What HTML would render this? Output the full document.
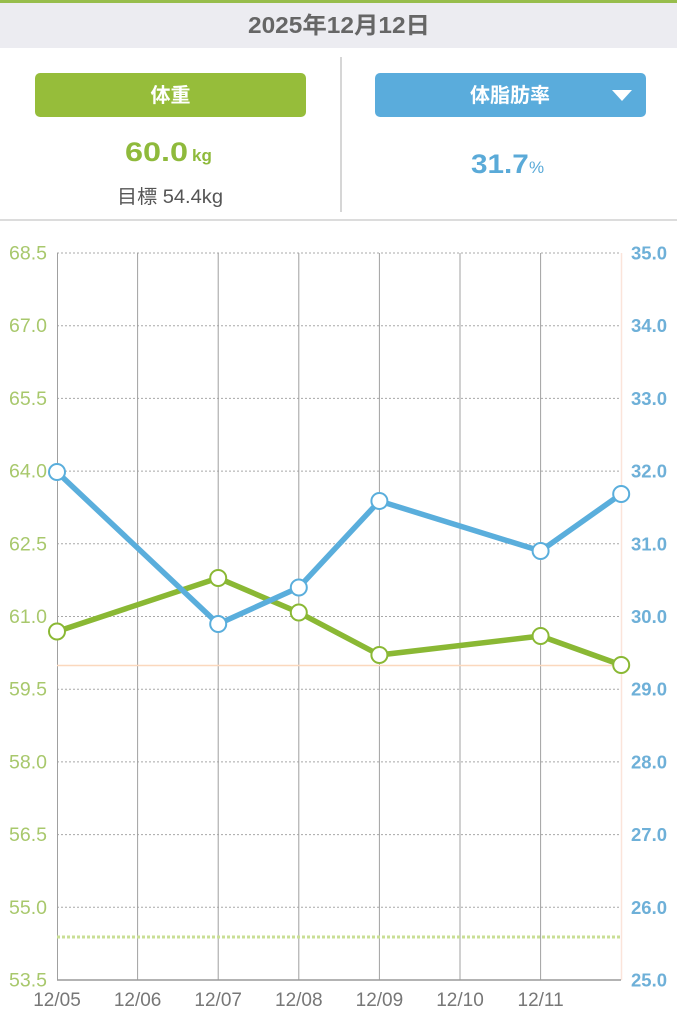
<!DOCTYPE html>
<html><head><meta charset="utf-8"><style>
html,body{margin:0;padding:0;background:#fff;width:677px;height:1024px;overflow:hidden}
svg{display:block}
text{font-family:"Liberation Sans","Noto Sans CJK JP",sans-serif}
</style></head><body>
<svg width="677" height="1024" viewBox="0 0 677 1024" xmlns="http://www.w3.org/2000/svg">
<rect x="0" y="0" width="677" height="1024" fill="#fff"/>
<!-- header -->
<rect x="0" y="0" width="677" height="48" fill="#ececf1"/>
<rect x="0" y="0" width="677" height="3" fill="#97bd4c"/>
<text x="339" y="33" text-anchor="middle" font-size="23" font-weight="bold" fill="#666" textLength="182" lengthAdjust="spacingAndGlyphs">2025年12月12日</text>
<line x1="341" y1="57" x2="341" y2="212" stroke="#c8c8c8" stroke-width="1.5"/>
<rect x="0" y="219" width="677" height="2" fill="#dcdcdc"/>
<rect x="35" y="73" width="271" height="44" rx="5" fill="#96bd3a"/>
<text x="170.5" y="102" text-anchor="middle" font-size="20" font-weight="bold" fill="#fff">体重</text>
<rect x="375" y="73" width="271" height="44" rx="5" fill="#5aacdc"/>
<text x="510" y="102" text-anchor="middle" font-size="20" font-weight="bold" fill="#fff">体脂肪率</text>
<polygon points="612,90 632,90 622,101" fill="#fff"/>
<g transform="translate(125,161) scale(1.2,1)">
<text x="0" y="0" font-size="27" font-weight="bold" fill="#8fba3c">60.0</text>
</g>
<text x="192" y="161" font-size="17" font-weight="bold" fill="#8fba3c">kg</text>
<text x="117" y="203" font-size="19" fill="#555" textLength="106" lengthAdjust="spacingAndGlyphs">目標 54.4kg</text>
<g transform="translate(471,173) scale(1.1,1)">
<text x="0" y="0" font-size="27" font-weight="bold" fill="#5aaad8">31.7</text>
</g>
<text x="529" y="173" font-size="17" fill="#5aaad8">%</text>

<!-- chart grid -->
<g stroke="#a8a8a8" stroke-width="1" stroke-dasharray="2 2">
<line x1="57" y1="253" x2="621" y2="253"/>
<line x1="57" y1="325.7" x2="621" y2="325.7"/>
<line x1="57" y1="398.4" x2="621" y2="398.4"/>
<line x1="57" y1="471.1" x2="621" y2="471.1"/>
<line x1="57" y1="543.8" x2="621" y2="543.8"/>
<line x1="57" y1="616.5" x2="621" y2="616.5"/>
<line x1="57" y1="689.2" x2="621" y2="689.2"/>
<line x1="57" y1="761.9" x2="621" y2="761.9"/>
<line x1="57" y1="834.6" x2="621" y2="834.6"/>
<line x1="57" y1="907.3" x2="621" y2="907.3"/>
</g>
<g stroke="#a0a0a0" stroke-width="1">
<line x1="57.5" y1="253" x2="57.5" y2="980"/>
<line x1="137.6" y1="253" x2="137.6" y2="980"/>
<line x1="218.2" y1="253" x2="218.2" y2="980"/>
<line x1="298.8" y1="253" x2="298.8" y2="980"/>
<line x1="379.4" y1="253" x2="379.4" y2="980"/>
<line x1="460" y1="253" x2="460" y2="980"/>
<line x1="540.6" y1="253" x2="540.6" y2="980"/>
</g>
<line x1="621.5" y1="253" x2="621.5" y2="980" stroke="#fbe4da" stroke-width="1.5"/>
<line x1="57" y1="980" x2="621" y2="980" stroke="#9a9a9a" stroke-width="1.5"/>
<line x1="57" y1="665.5" x2="621" y2="665.5" stroke="#fbd8bd" stroke-width="1.5"/>
<line x1="57" y1="937" x2="621" y2="937" stroke="#c9df95" stroke-width="3" stroke-dasharray="3 2"/>

<!-- left labels -->
<g font-size="19.5" fill="#a8c86c" text-anchor="end">
<text x="47" y="259.5">68.5</text>
<text x="47" y="332.2">67.0</text>
<text x="47" y="404.9">65.5</text>
<text x="47" y="477.6">64.0</text>
<text x="47" y="550.3">62.5</text>
<text x="47" y="623">61.0</text>
<text x="47" y="695.7">59.5</text>
<text x="47" y="768.4">58.0</text>
<text x="47" y="841.1">56.5</text>
<text x="47" y="913.8">55.0</text>
<text x="47" y="986.5">53.5</text>
</g>
<!-- right labels -->
<g font-size="18.5" font-weight="bold" fill="#6eb0d8">
<text x="631" y="259.5">35.0</text>
<text x="631" y="332.2">34.0</text>
<text x="631" y="404.9">33.0</text>
<text x="631" y="477.6">32.0</text>
<text x="631" y="550.3">31.0</text>
<text x="631" y="623">30.0</text>
<text x="631" y="695.7">29.0</text>
<text x="631" y="768.4">28.0</text>
<text x="631" y="841.1">27.0</text>
<text x="631" y="913.8">26.0</text>
<text x="631" y="986.5">25.0</text>
</g>
<!-- x labels -->
<g font-size="19" fill="#777" text-anchor="middle">
<text x="57" y="1006">12/05</text>
<text x="137.6" y="1006">12/06</text>
<text x="218.2" y="1006">12/07</text>
<text x="298.8" y="1006">12/08</text>
<text x="379.4" y="1006">12/09</text>
<text x="460" y="1006">12/10</text>
<text x="540.6" y="1006">12/11</text>
</g>

<!-- series -->
<polyline points="57,631.5 218.2,578 298.8,612.5 379.4,655 540.6,636 621.2,665" fill="none" stroke="#8ab834" stroke-width="5.5" stroke-linejoin="round"/>
<polyline points="57,472 218.2,624 298.8,587.5 379.4,501 540.6,551 621.2,494" fill="none" stroke="#5aaedc" stroke-width="5.5" stroke-linejoin="round"/>
<g fill="#fff" stroke="#8ab834" stroke-width="2">
<circle cx="57" cy="631.5" r="8"/>
<circle cx="218.2" cy="578" r="8"/>
<circle cx="298.8" cy="612.5" r="8"/>
<circle cx="379.4" cy="655" r="8"/>
<circle cx="540.6" cy="636" r="8"/>
<circle cx="621.2" cy="665" r="8"/>
</g>
<g fill="#fff" stroke="#5aaedc" stroke-width="2">
<circle cx="57" cy="472" r="8"/>
<circle cx="218.2" cy="624" r="8"/>
<circle cx="298.8" cy="587.5" r="8"/>
<circle cx="379.4" cy="501" r="8"/>
<circle cx="540.6" cy="551" r="8"/>
<circle cx="621.2" cy="494" r="8"/>
</g>
</svg>
</body></html>
